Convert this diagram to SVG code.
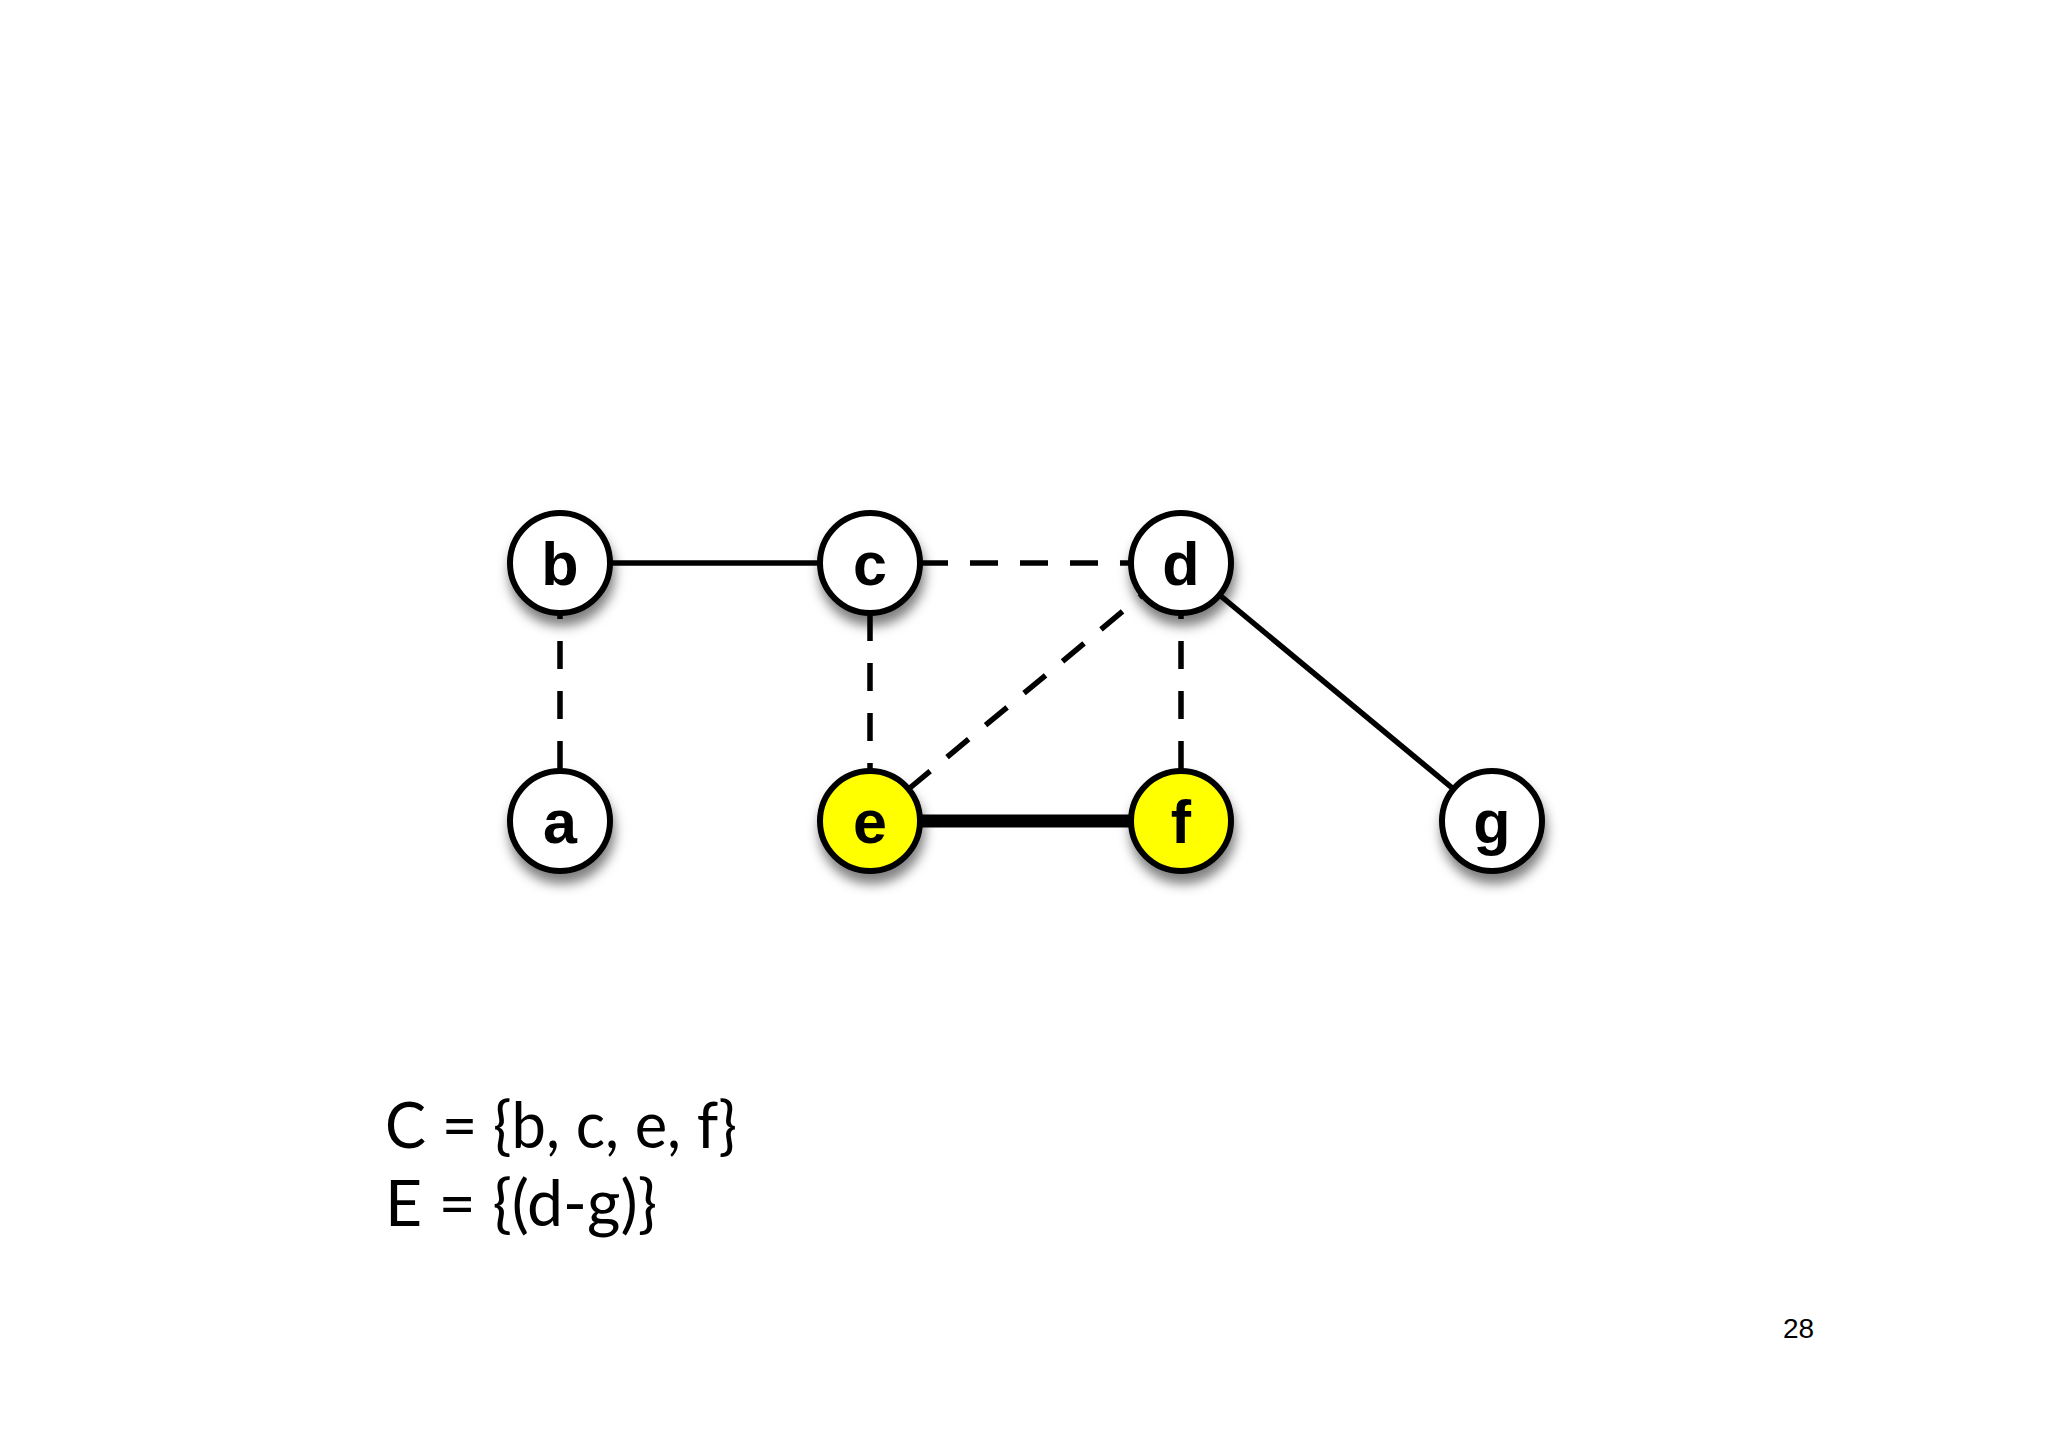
<svg xmlns="http://www.w3.org/2000/svg" width="2048" height="1447" viewBox="0 0 2048 1447">
<defs>
<style>
.edge{stroke:#000;stroke-width:5.5;fill:none}
.dash{stroke-dasharray:28 22}
.thick{stroke-width:13}
.node circle{stroke:#000;stroke-width:6;filter:url(#sh)}
.w{fill:#fff}
.y{fill:#ffff00}
.lbl{font-family:"Liberation Sans",Arial,sans-serif;font-weight:bold;font-size:61px;text-anchor:middle;fill:#000}
.set{font-family:Lato,"Open Sans",sans-serif;font-size:64px;fill:#000}
.pg{font-family:"Liberation Sans",Arial,sans-serif;font-size:28px;fill:#000}
</style>
<filter id="sh" x="-40%" y="-40%" width="180%" height="200%">
<feDropShadow dx="2" dy="10" stdDeviation="6" flood-color="#000" flood-opacity="0.5"/>
</filter>
</defs>
<rect width="2048" height="1447" fill="#fff"/>
<g id="connectors">
<line class="edge" x1="610" y1="563" x2="820" y2="563"/>
<line class="edge dash" x1="920" y1="563" x2="1131" y2="563"/>
<line class="edge dash" stroke-dashoffset="22" x1="560" y1="613" x2="560" y2="771"/>
<line class="edge dash" x1="870" y1="613" x2="870" y2="771"/>
<line class="edge dash" stroke-dashoffset="22" x1="1181" y1="613" x2="1181" y2="771"/>
<line class="edge dash" x1="908.6" y1="789" x2="1142.4" y2="595"/>
<line class="edge thick" x1="870" y1="821" x2="1181" y2="821"/>
<line class="edge" x1="1181" y1="563" x2="1492" y2="821"/>
</g>
<g id="node-b" class="node"><circle class="w" cx="560" cy="563" r="50"/><text class="lbl" x="560" y="585">b</text></g>
<g id="node-c" class="node"><circle class="w" cx="870" cy="563" r="50"/><text class="lbl" x="870" y="585">c</text></g>
<g id="node-d" class="node"><circle class="w" cx="1181" cy="563" r="50"/><text class="lbl" x="1181" y="585">d</text></g>
<g id="node-a" class="node"><circle class="w" cx="560" cy="821" r="50"/><text class="lbl" x="560" y="843">a</text></g>
<g id="node-e" class="node"><circle class="y" cx="870" cy="821" r="50"/><text class="lbl" x="870" y="843">e</text></g>
<g id="node-f" class="node"><circle class="y" cx="1181" cy="821" r="50"/><text class="lbl" x="1181" y="843">f</text></g>
<g id="node-g" class="node"><circle class="w" cx="1492" cy="821" r="50"/><text class="lbl" x="1492" y="843">g</text></g>
<g id="text">
<text class="set" x="385" y="1148" textLength="352" lengthAdjust="spacingAndGlyphs">C = {b, c, e, f}</text>
<text class="set" x="385" y="1226" textLength="272" lengthAdjust="spacingAndGlyphs">E = {(d-g)}</text>
<text class="pg" x="1783" y="1338">28</text>
</g>
</svg>
